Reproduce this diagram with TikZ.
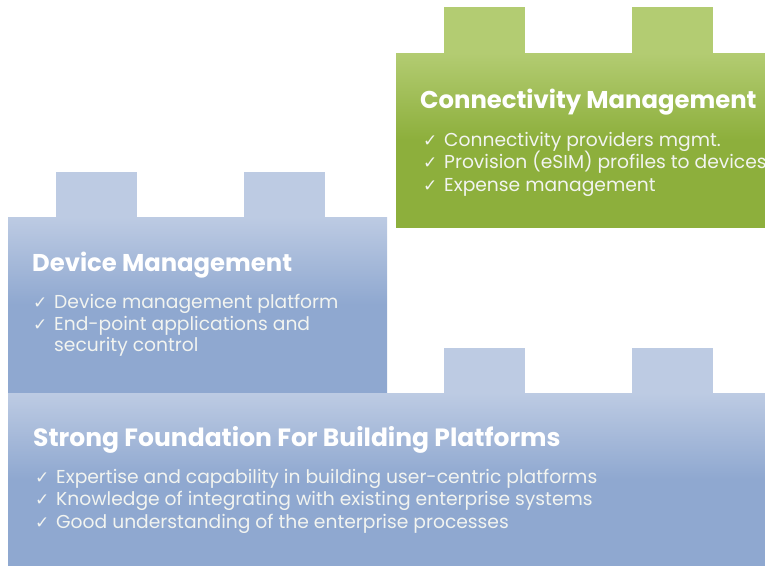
\documentclass[tikz,border=0pt]{standalone}
\usepackage{fontspec}
\setmainfont{Poppins}
\newfontfamily\checkfont{DejaVu Sans}

% block colours
\definecolor{greenlight}{HTML}{B3CC72}
\definecolor{greendark}{HTML}{8DAF3C}
\definecolor{bluelight}{HTML}{BDCBE3}
\definecolor{bluedark}{HTML}{8FA8D0}
\definecolor{itemtext}{HTML}{F2F4F0}

% vertical fades: light at the top edge, full colour from just below the middle
\pgfdeclareverticalshading{greenfade}{100bp}{color(0bp)=(greendark); color(25bp)=(greendark); color(50bp)=(greendark); color(75bp)=(greenlight); color(100bp)=(greenlight)}
\pgfdeclareverticalshading{bluefade}{100bp}{color(0bp)=(bluedark); color(25bp)=(bluedark); color(50bp)=(bluedark); color(75bp)=(bluelight); color(100bp)=(bluelight)}

\tikzset{
  title/.style={anchor=base west, inner sep=0pt, text=white, font=\bfseries\fontsize{24.3}{28}\selectfont},
  item/.style={anchor=base west, inner sep=0pt, text=itemtext, font=\fontsize{18.7}{22}\selectfont},
}
\newcommand{\tick}{\makebox[21pt][l]{{\checkfont\fontsize{17}{20}\selectfont ✓}}}

\begin{document}
\begin{tikzpicture}[x=1pt,y=-1pt]
\useasboundingbox (0,0) rectangle (765,565);

% Connectivity block
\fill[greenlight] (444,7) rectangle (525,54);
\fill[greenlight] (632,7) rectangle (713,54);
\shade[shading=greenfade] (396,53) rectangle (765,227);

% Device block
\fill[bluelight] (56,172) rectangle (137,218);
\fill[bluelight] (244,172) rectangle (325,218);
\shade[shading=bluefade] (8,217) rectangle (387,392);

% Foundation block
\fill[bluelight] (444,348) rectangle (525,394);
\fill[bluelight] (632,348) rectangle (713,394);
\shade[shading=bluefade] (8,393) rectangle (765,565);

% Connectivity texts
\node[title] (conntitle) at (420,108) {Connectivity Management};
\node[item] (conn1) at (423,146)   {\tick Connectivity providers mgmt.};
\node[item] (conn2) at (423,168.5) {\tick Provision (eSIM) profiles to devices};
\node[item] (conn3) at (423,191)   {\tick Expense management};

% Device texts
\node[title] (devtitle) at (32,271) {Device Management};
\node[item] (dev1) at (33,308.3) {\tick Device management platform};
\node[item] (dev2) at (33,330)   {\tick End-point applications and};
\node[item] (dev3) at (54,351.7) {security control};

% Foundation texts
\node[title, font=\bfseries\fontsize{25}{28}\selectfont] (foundtitle) at (33,446) {Strong Foundation For Building Platforms};
\node[item] (found1) at (35,483.3) {\tick Expertise and capability in building user-centric platforms};
\node[item] (found2) at (35,505.7) {\tick Knowledge of integrating with existing enterprise systems};
\node[item] (found3) at (35,528.3) {\tick Good understanding of the enterprise processes};
\end{tikzpicture}
\end{document}
